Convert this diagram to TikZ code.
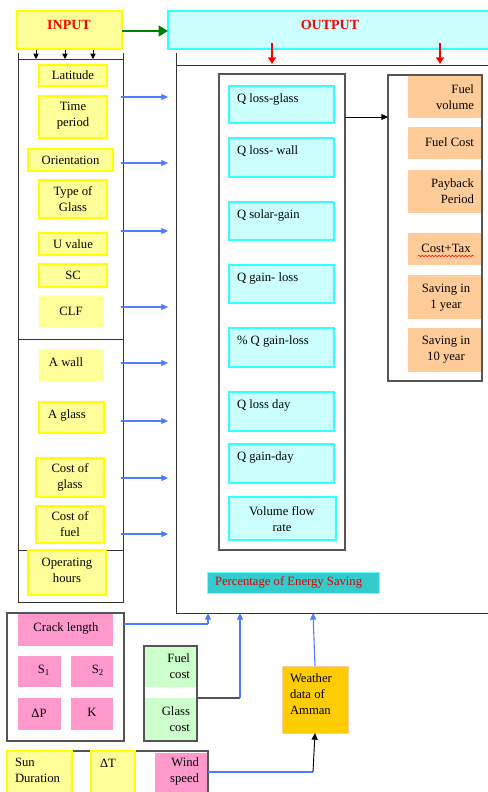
\documentclass[tikz,border=0pt]{standalone}
\usepackage{fontspec}
\setmainfont{Liberation Serif}
\usetikzlibrary{arrows.meta,fit,decorations.pathmorphing}
\definecolor{yel}{HTML}{FFFF99}
\definecolor{yelb}{HTML}{FFFF00}
\definecolor{cyf}{HTML}{CCFFFF}
\definecolor{cyb}{HTML}{33FFFF}
\definecolor{org}{HTML}{FFCC99}
\definecolor{pnk}{HTML}{FF99CC}
\definecolor{grn}{HTML}{CCFFCC}
\definecolor{teal2}{HTML}{33CCCC}
\definecolor{gold}{HTML}{FFCC00}
\definecolor{blu}{HTML}{4D7CFF}
\definecolor{gry}{HTML}{555555}
\definecolor{dgreen}{HTML}{008000}
\newcommand\Bx[6]{\node[#2, fit={(#3,#4)(#5,#6)}] (#1) {};}
\begin{document}
\begin{tikzpicture}[x=0.75pt,y=-0.75pt,
  every node/.style={inner sep=0pt, outer sep=0pt},
  ybox/.style={fill=yel, draw=yelb, line width=0.8pt},
  yboxnb/.style={fill=yel},
  cbox/.style={fill=cyf, draw=cyb, line width=0.8pt},
  obox/.style={fill=org},
  pbox/.style={fill=pnk},
  gbox/.style={fill=grn},
  colbox/.style={draw=black!80, line width=0.7pt},
  ibox/.style={draw=gry, line width=0.9pt},
  t/.style={align=center, font=\fontsize{9.5}{12}\selectfont},
  tl/.style={t, align=left, anchor=west},
  tr/.style={t, align=right, anchor=east},
  hd/.style={text=red, font=\fontsize{10.5}{12}\selectfont\bfseries},
  barrow/.style={draw=blu, line width=0.8pt, -{Triangle[length=5pt,width=4.5pt]}},
  bline/.style={draw=blu, line width=0.8pt},
  karrow/.style={draw=black, line width=0.7pt, -{Triangle[length=5pt,width=4.5pt]}},
  rarrow/.style={draw=red, line width=1.6pt, -{Triangle[length=5pt,width=6pt]}},
]
\useasboundingbox (0,0) rectangle (488,792);

% ---------- INPUT ----------
\Bx{input}{ybox}{17}{11}{122}{49}
\node[hd] (inputt) at (69,25) {INPUT};
\Bx{output}{cbox}{168}{11}{495}{49}
\node[hd] (outputt) at (330,25) {OUTPUT};
\draw[dgreen, line width=2.2pt, -{Triangle[length=7pt,width=8pt]}] (input.east |- 0,31) -- (output.west |- 0,31);

% input column
\Bx{incol}{colbox}{18}{59}{123}{602}
\draw[colbox] (incol.north west) -- ++(0,-6);
\draw[colbox] (incol.north east) -- ++(0,-6);
\coordinate (d1) at (36,59); \coordinate (d2) at (65,59); \coordinate (d3) at (93,59);
\foreach \d in {d1,d2,d3} \draw[karrow, line width=0.6pt, -{Triangle[length=4pt,width=4pt]}] (\d) ++(0,-9) -- (\d);
\draw[colbox] (incol.west |- 0,339) -- (incol.east |- 0,339);
\draw[colbox] (incol.west |- 0,550) -- (incol.east |- 0,550);

\Bx{lat}{ybox}{39}{65}{107}{86}
\node[t] (latt) at (lat) {Latitude};
\Bx{time}{ybox}{39}{96}{107}{138}
\node[t] (timet) at (73,116) {Time\\period};
\Bx{orient}{ybox}{28}{149}{113}{171}
\node[t] (orientt) at (orient) {Orientation};
\Bx{type}{ybox}{39}{180}{107}{218}
\node[t] (typet) at (73,199) {Type of\\Glass};
\Bx{uval}{ybox}{39}{233}{107}{255}
\node[t] (uvalt) at (uval) {U value};
\Bx{sc}{ybox}{39}{264}{107}{287}
\node[t] (sct) at (sc) {SC};
\Bx{clf}{yboxnb}{39}{296}{104}{328}
\node[t] (clft) at (71,311) {CLF};
\Bx{awall}{yboxnb}{39}{349}{104}{382}
\node[t] (awallt) at (66,362) {A wall};
\Bx{aglass}{ybox}{39}{402}{104}{433}
\node[t] (aglasst) at (67,415) {A glass};
\Bx{cglass}{ybox}{36}{458}{104}{497}
\node[t] (cglasst) at (70,477) {Cost of\\glass};
\Bx{cfuel}{ybox}{36}{506}{104}{543}
\node[t] (cfuelt) at (70,524) {Cost of\\fuel};
\Bx{ophr}{ybox}{28}{550}{106}{595}
\node[t] (ophrt) at (67,570) {Operating\\hours};

% output column
\Bx{outcol}{colbox}{176}{65}{495}{613}
\draw[colbox] (outcol.north west) -- ++(0,-12);
\foreach \yy in {97,163,231,307,363,421,478,534}
  \draw[barrow] (121,\yy) -- (168,\yy);
\draw[rarrow] (272,43) -- (272,64);
\draw[rarrow] (440,43) -- (440,64);

\Bx{qcol}{ibox}{219}{74}{345}{550}
\Bx{ql1}{cbox}{229}{86}{334}{123}
\node[tl] (ql1t) at (237,99) {Q loss-glass};
\Bx{ql2}{cbox}{229}{138}{334}{177}
\node[tl] (ql2t) at (237,151) {Q loss- wall};
\Bx{qsg}{cbox}{229}{202}{334}{240}
\node[tl] (qsgt) at (237,215) {Q solar-gain};
\Bx{qgl}{cbox}{229}{265}{334}{303}
\node[tl] (qglt) at (237,278) {Q gain- loss};
\Bx{pq}{cbox}{229}{328}{334}{367}
\node[tl] (pqt) at (237,341) {\% Q gain-loss};
\Bx{qld}{cbox}{229}{392}{334}{431}
\node[tl] (qldt) at (237,405) {Q loss day};
\Bx{qgd}{cbox}{229}{444}{334}{483}
\node[tl] (qgdt) at (237,457) {Q gain-day};
\Bx{vfr}{cbox}{229}{497}{336}{540}
\node[t] (vfrt) at (282,519) {Volume flow\\rate};

\Bx{fcol}{ibox}{388}{75}{482}{381}
\Bx{fv}{obox}{408}{76}{481}{118}
\node[tr] (fvt) at (474,97) {Fuel\\volume};
\Bx{fc}{obox}{408}{127}{481}{159}
\node[tr] (fct) at (474,142) {Fuel Cost};
\Bx{pp}{obox}{408}{170}{481}{213}
\node[tr] (ppt) at (474,191) {Payback\\Period};
\Bx{ct}{obox}{408}{233}{481}{265}
\node[t] (ctt) at (446,248) {Cost+Tax};
\draw[red, line width=0.4pt, decorate, decoration={snake, amplitude=0.6pt, segment length=2.5pt}] (418,256) -- (474,256);
\Bx{s1}{obox}{408}{275}{481}{319}
\node[t] (s1t) at (446,298) {Saving in\\1 year};
\Bx{s10}{obox}{408}{328}{481}{372}
\node[t] (s10t) at (446,350) {Saving in\\10 year};
\draw[karrow] (qcol.east |- 0,117) -- (fcol.west |- 0,117);

\Bx{pes}{fill=teal2, draw=cyb!70, line width=0.6pt}{207}{572}{379}{593}
\node[tl, text=red!85!black] (pest) at (215,582) {Percentage of Energy Saving};

% ---------- bottom ----------
\Bx{crk}{ibox}{7}{613}{124}{741}
\Bx{cl}{pbox}{18}{614}{113}{646}
\node[t] (clt) at (66,628) {Crack length};
\Bx{s1b}{pbox}{18}{656}{61}{687}
\node[t] (s1bt) at (44,670) {S\textsubscript{1}};
\Bx{s2b}{pbox}{71}{656}{113}{687}
\node[t] (s2bt) at (98,670) {S\textsubscript{2}};
\Bx{dp}{pbox}{18}{698}{61}{730}
\node[t] (dpt) at (39,713) {ΔP};
\Bx{kb}{pbox}{71}{698}{113}{730}
\node[t] (kbt) at (92,712) {K};

\Bx{fuelc}{gbox}{144}{646}{197}{687}
\Bx{glassc}{gbox}{144}{698}{197}{741}
\Bx{grp}{ibox}{144}{646}{197}{741}
\node[tr] (fuelct) at (190,666) {Fuel\\cost};
\node[tr] (glassct) at (190,719) {Glass\\cost};

\Bx{weather}{fill=gold, draw=org, line width=0.6pt}{282}{666}{348}{733}
\node[tl] (weathert) at (290,694) {Weather\\data of\\Amman};

\Bx{wind}{pbox}{155}{753}{208}{800}
\Bx{botbox}{ibox}{7}{751}{208}{800}
\Bx{sun}{ybox}{7}{751}{72}{800}
\node[tl] (sunt) at (15,770) {Sun\\Duration};
\Bx{dt}{ybox}{91}{751}{135}{800}
\node[tl] (dtt) at (100,763) {ΔT};
\node[tr] (windt) at (199,771) {Wind\\speed};

% connectors to output column
\coordinate (c1) at (208,613);
\coordinate (c2) at (240,613);
\coordinate (c3) at (313,613);
\draw[bline] (crk.east |- 0,624) -| (208,624);
\draw[barrow] (208,624) -- (c1);
\draw[gry, line width=0.8pt] (grp.east |- 0,698) -- (240,698);
\draw[barrow] (240,698) -- (c2);
\draw[barrow] (weather.north) -- (c3);
\draw[bline] (wind.east |- 0,772) -- (313,772);
\draw[karrow] (313,772) -- (weather.south);
\end{tikzpicture}
\end{document}
